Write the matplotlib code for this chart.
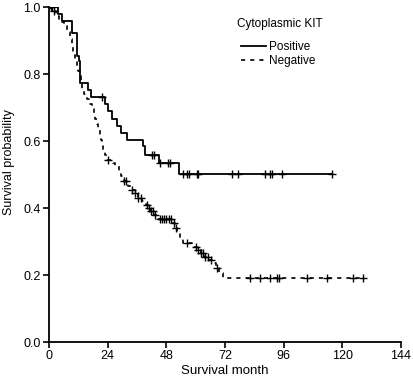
import numpy as np
import matplotlib.pyplot as plt

plt.rcParams['font.family'] = ['Liberation Sans', 'DejaVu Sans']

# Kaplan-Meier steps: event time (months) and survival after that event
pos_times = [3.5, 5.5, 9.4, 11.6, 12.2, 12.8, 16.1, 17.0, 23.0, 24.3, 25.6,
             27.7, 29.3, 32.0, 38.3, 39.3, 45.1, 53.3]
pos_surv = [0.98, 0.959, 0.924, 0.854, 0.84, 0.775, 0.754, 0.731, 0.71, 0.69,
            0.667, 0.645, 0.625, 0.605, 0.585, 0.56, 0.535, 0.503]
pos_censor = [0.8, 1.4, 21.6, 42.0, 43.0, 45.4, 48.8, 49.5, 55.0, 56.6, 57.4,
              60.4, 61.1, 74.8, 77.5, 88.4, 90.4, 91.1, 95.2, 115.7]
pos_end = 115.7

neg_times = [1, 3, 4, 5, 6, 7.5, 8.5, 9.3, 10, 10.6, 11.5, 12, 12.5, 13, 13.4,
             14.5, 15.5, 16.5, 17.5, 18.5, 19, 19.7, 20.2, 20.8, 21.3, 21.8,
             22.3, 23, 23.7, 26, 27, 28.5, 29.5, 30.5, 32.5, 33.5, 35, 36.5,
             38, 39.5, 40.5, 41.5, 43, 44, 50.5, 51.5, 52.5, 53.5, 55, 58.5,
             60.5, 62, 63.5, 65.5, 67, 68.5, 69.5, 71]
neg_surv = [0.99, 0.975, 0.965, 0.955, 0.945, 0.925, 0.905, 0.885, 0.87, 0.845,
            0.825, 0.81, 0.795, 0.775, 0.75, 0.74, 0.725, 0.71, 0.695, 0.68,
            0.665, 0.65, 0.635, 0.62, 0.605, 0.59, 0.575, 0.56, 0.545, 0.535,
            0.525, 0.51, 0.495, 0.48, 0.465, 0.455, 0.445, 0.43, 0.42, 0.41,
            0.40, 0.39, 0.38, 0.368, 0.355, 0.34, 0.325, 0.31, 0.297, 0.285,
            0.275, 0.265, 0.255, 0.245, 0.235, 0.22, 0.205, 0.19]
neg_censor = [2, 24.3, 30.8, 31.6, 34.0, 35.0, 36.6, 37.6, 40.2, 41.0, 41.8,
              42.6, 43.4, 45.4, 46.4, 47.2, 48.0, 49.0, 50.0, 51.0, 52.0, 56.3,
              60.2, 61.0, 62.2, 63.0, 64.0, 65.0, 66.2, 68.9, 82.2, 86.3, 90.4,
              93.2, 94.2, 105.4, 113.6, 124.5, 128.4]
neg_end = 128.4


def km_xy(times, surv, end):
    x = np.concatenate([[0], times, [end]])
    y = np.concatenate([[1.0], surv, [surv[-1]]])
    return x, y


def surv_at(times, surv, t):
    idx = np.searchsorted(times, t, side='right') - 1
    return np.where(idx < 0, 1.0, np.array(surv)[np.clip(idx, 0, None)])


fig = plt.figure(figsize=(4.13, 3.82), dpi=100)
ax = fig.add_axes([0.1186, 0.1047, 0.8524, 0.8762])

x, y = km_xy(pos_times, pos_surv, pos_end)
ax.step(x, y, where='post', color='black', lw=1.3, label='Positive')
ax.plot(pos_censor, surv_at(pos_times, pos_surv, pos_censor), '+',
        color='black', ms=6, mew=1.0)

x, y = km_xy(neg_times, neg_surv, neg_end)
ax.step(x, y, where='post', color='black', lw=1.2, ls=(0, (2.5, 3)),
        label='Negative')
ax.plot(neg_censor, surv_at(neg_times, neg_surv, neg_censor), '+',
        color='black', ms=6, mew=1.0)

ax.set_xlim(0, 144)
ax.set_ylim(0, 1.0)
ax.set_xticks(np.arange(0, 145, 24))
ax.set_yticks(np.arange(0, 1.01, 0.2))
ax.yaxis.set_major_formatter(plt.FormatStrFormatter('%.1f'))
for s in ['top', 'right']:
    ax.spines[s].set_visible(False)
ax.spines['left'].set_linewidth(1.3)
ax.spines['bottom'].set_linewidth(1.3)
ax.tick_params(direction='out', length=4, width=1.2, labelsize=9,
               pad=2)
ax.set_xlabel('Survival month', fontsize=9.5, labelpad=2)
ax.set_ylabel('Survival probability', fontsize=9)
ax.yaxis.set_label_coords(-0.097, 0.538)

leg = ax.legend(title='Cytoplasmic KIT', loc='upper left',
                bbox_to_anchor=(0.52, 0.983), frameon=False, fontsize=8.5,
                title_fontsize=8.5, handlelength=2.1, handletextpad=0.3,
                labelspacing=0.2, borderaxespad=0)
leg._legend_box.align = 'left'
leg._legend_box.sep = 5
leg._legend_handle_box.get_children()[0].pad = 3

fig.savefig('out.png', dpi=100)
